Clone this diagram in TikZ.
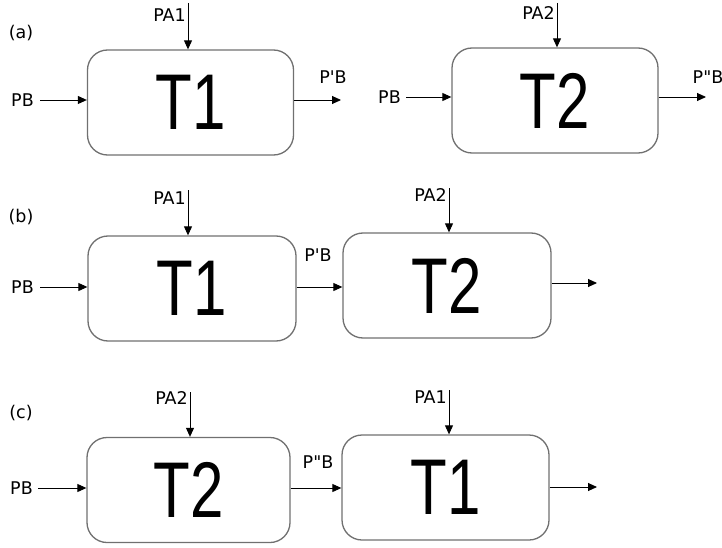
\documentclass[tikz,border=0pt]{standalone}
\usepackage{fontspec}
\usetikzlibrary{arrows.meta}
\newfontfamily\lblfont{DejaVu Sans}
\newfontfamily\bigfont[FakeStretch=0.76]{Liberation Sans}
\definecolor{boxgray}{HTML}{707070}
\begin{document}
\begin{tikzpicture}[x=1pt,y=-1pt,
  proc/.style={draw=boxgray, line width=1.3pt, rounded corners=20pt, minimum width=206pt, minimum height=105pt, inner sep=0pt, font=\bigfont\fontsize{79}{79}\selectfont},
  lbl/.style={font=\lblfont\fontsize{17.5}{17.5}\selectfont, inner sep=0pt},
  flow/.style={-{Triangle[length=9pt,width=8pt]}, line width=0.9pt}]
\useasboundingbox (0,0) rectangle (722,548);
% (a)
\node[lbl] (la) at (21,33) {(a)};
\node[proc] (aT1) at (190.5,102.5) {T1};
\node[proc] (aT2) at (555,100.5) {T2};
\coordinate (aPA1) at (188,3);
\coordinate (aPA2) at (557,3);
\node[lbl,anchor=east] (aPA1l) at (186,15) {PA1};
\node[lbl,anchor=east] (aPA2l) at (555,13) {PA2};
\draw[flow] (aPA1) -- (aPA1 |- aT1.north);
\draw[flow] (aPA2) -- (aPA2 |- aT2.north);
\node[lbl,anchor=east] (aPB1) at (34,100) {PB};
\node[lbl,anchor=east] (aPB2) at (401,97) {PB};
\draw[flow] (aPB1.east) ++(6,0) coordinate (aPB1s) -- (aPB1s -| aT1.west);
\draw[flow] (aPB2.east) ++(5,0) coordinate (aPB2s) -- (aPB2s -| aT2.west);
\coordinate (aO1) at (341,100);
\coordinate (aO2) at (706,97);
\draw[flow] (aO1 -| aT1.east) -- (aO1);
\draw[flow] (aO2 -| aT2.east) -- (aO2);
\node[lbl] (aPpB) at (333,77) {P'B};
\node[lbl] (aPppB) at (708,77) {P"B};
% (b)
\node[lbl] (lb) at (21,217) {(b)};
\node[proc,minimum width=208pt] (bT1) at (192,288.5) {T1};
\node[proc,minimum width=208pt] (bT2) at (447,285.5) {T2};
\coordinate (bPA1) at (188,190);
\coordinate (bPA2) at (449,188);
\node[lbl,anchor=east] (bPA1l) at (186,198) {PA1};
\node[lbl,anchor=east] (bPA2l) at (447,195) {PA2};
\draw[flow] (bPA1) -- (bPA1 |- bT1.north);
\draw[flow] (bPA2) -- (bPA2 |- bT2.north);
\node[lbl,anchor=east] (bPB) at (34,287) {PB};
\draw[flow] (bPB.east) ++(6,0) coordinate (bPBs) -- (bPBs -| bT1.west);
\draw[flow] (bT1.east |- 0,287) -- (bT2.west |- 0,287);
\node[lbl] (bPpB) at (318,255) {P'B};
\coordinate (bO) at (597,283);
\draw[flow] (bO -| bT2.east) -- (bO);
% (c)
\node[lbl] (lc) at (21,413) {(c)};
\node[proc,minimum width=203pt] (cT2) at (188.5,490) {T2};
\node[proc,minimum width=207pt] (cT1) at (445.5,487.5) {T1};
\coordinate (cPA2) at (190,392);
\coordinate (cPA1) at (449,390);
\node[lbl,anchor=east] (cPA2l) at (188,398) {PA2};
\node[lbl,anchor=east] (cPA1l) at (447,397) {PA1};
\draw[flow] (cPA2) -- (cPA2 |- cT2.north);
\draw[flow] (cPA1) -- (cPA1 |- cT1.north);
\node[lbl,anchor=east] (cPB) at (33,488) {PB};
\draw[flow] (cPB.east) ++(5,0) coordinate (cPBs) -- (cPBs -| cT2.west);
\draw[flow] (cT2.east |- 0,488) -- (cT1.west |- 0,488);
\node[lbl] (cPppB) at (318,462) {P"B};
\coordinate (cO) at (597,487);
\draw[flow] (cO -| cT1.east) -- (cO);
\end{tikzpicture}
\end{document}
